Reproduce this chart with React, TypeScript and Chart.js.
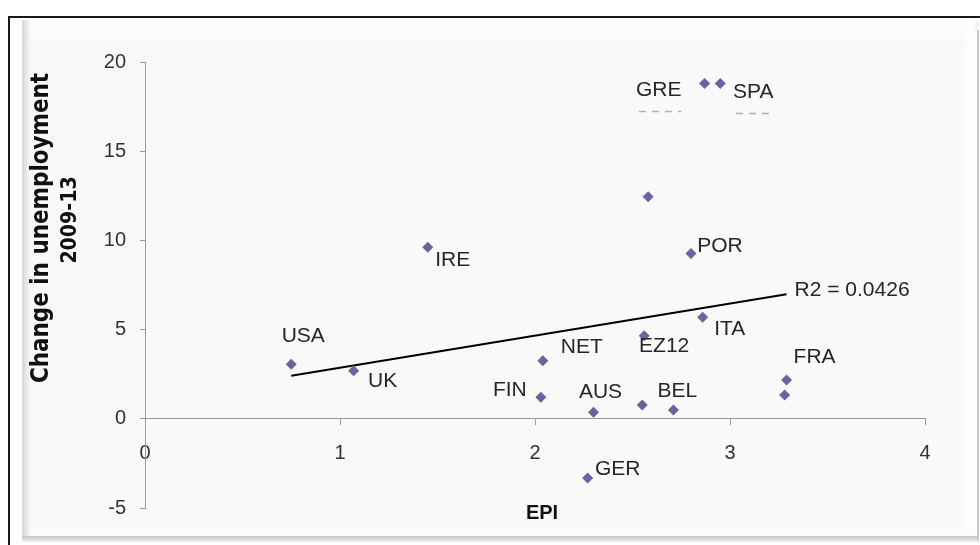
import React, { useEffect, useRef } from "react";
import { Chart, registerables } from "chart.js";

Chart.register(...registerables);

// ---- data ----
const countries = ["USA", "UK", "IRE", "FIN", "NET", "AUS", "GER", "", "BEL", "EZ12", "", "GRE", "SPA", "POR", "ITA", "FRA", ""];
const epi = [0.75, 1.07, 1.45, 2.03, 2.04, 2.30, 2.27, 2.55, 2.71, 2.56, 2.58, 2.87, 2.95, 2.80, 2.86, 3.29, 3.28];
const unemploymentChange = [3.06, 2.69, 9.61, 1.21, 3.25, 0.37, -3.32, 0.78, 0.50, 4.66, 12.44, 18.8, 18.8, 9.27, 5.69, 2.18, 1.34];
const trendX = [0.75, 3.29];
const trendY = [2.41, 6.98];
const r2Text = "R2 = 0.0426";
const xTicks = [0, 1, 2, 3, 4];
const yTicks = [-5, 0, 5, 10, 15, 20];
const yTitleLines = ["Change in unemployment", "2009-13"];
const xTitle = "EPI";

// label placement (pixel offsets from the marker, styling only)
const labelOffsets: Record<string, [number, number]> = {
  USA: [12, -28], UK: [29, 10], IRE: [25, 13], FIN: [-31, -7], NET: [39, -14],
  AUS: [7, -20], GER: [30, -9], BEL: [4, -19], EZ12: [20, 11], GRE: [-46, 7],
  SPA: [33, 9], POR: [29, -7], ITA: [27, 12], FRA: [28, -23],
};

const TICK_FONT = { family: "'Liberation Sans', Arial, sans-serif", size: 20 };
const PLOT_LEFT = 145;

const framePlugin = {
  id: "frame",
  beforeDraw(chart: any) {
    const ctx = chart.ctx;
    ctx.save();
    ctx.fillStyle = "#ffffff";
    ctx.fillRect(0, 0, 980, 545);
    ctx.fillStyle = "#f3f3f3";
    ctx.fillRect(22, 20, 957, 522);
    const lg = ctx.createLinearGradient(22, 0, 30, 0);
    lg.addColorStop(0, "#d6d6d6");
    lg.addColorStop(1, "#f6f6f6");
    ctx.fillStyle = lg;
    ctx.fillRect(22, 20, 8, 518);
    const tg = ctx.createLinearGradient(0, 20, 0, 46);
    tg.addColorStop(0, "#ffffff");
    tg.addColorStop(1, "#f7f7f7");
    ctx.fillStyle = tg;
    ctx.fillRect(30, 20, 945, 26);
    ctx.fillStyle = "#f9f9f9";
    ctx.fillRect(30, 46, 935, 488);
    ctx.fillStyle = "#fdfdfd";
    ctx.fillRect(965, 30, 12, 504);
    ctx.fillStyle = "#fcfcfc";
    ctx.fillRect(30, 530, 945, 7);
    const bg = ctx.createLinearGradient(0, 536, 0, 542);
    bg.addColorStop(0, "#c4c4c4");
    bg.addColorStop(1, "#eeeeee");
    ctx.fillStyle = bg;
    ctx.fillRect(22, 536, 957, 6);
    ctx.fillStyle = "#c8c8c8";
    ctx.fillRect(977, 30, 2, 510);
    ctx.strokeStyle = "#1a1a1a";
    ctx.lineWidth = 2;
    ctx.beginPath();
    ctx.moveTo(980, 17);
    ctx.lineTo(9, 17);
    ctx.lineTo(9, 545);
    ctx.stroke();
    ctx.restore();
  },
};

const labelsPlugin = {
  id: "labels",
  afterDatasetsDraw(chart: any) {
    const ctx = chart.ctx;
    const xs = chart.scales.x;
    const ys = chart.scales.y;
    ctx.save();
    ctx.font = "21px 'Liberation Sans', Arial, sans-serif";
    ctx.fillStyle = "#262626";
    ctx.textAlign = "center";
    ctx.textBaseline = "middle";
    countries.forEach((name, i) => {
      if (!name) return;
      const off = labelOffsets[name] || [0, 0];
      const px = xs.getPixelForValue(epi[i]);
      const py = ys.getPixelForValue(unemploymentChange[i]);
      ctx.fillText(name, px + off[0], py + off[1]);
      if (name === "GRE" || name === "SPA") {
        const w = ctx.measureText(name).width;
        ctx.save();
        ctx.strokeStyle = "#b0b0b0";
        ctx.lineWidth = 1.5;
        ctx.setLineDash([7, 6]);
        ctx.beginPath();
        const ly = py + off[1] + 21;
        ctx.moveTo(px + off[0] - w / 2 + 3, ly);
        ctx.lineTo(px + off[0] + w / 2, ly);
        ctx.stroke();
        ctx.restore();
      }
    });
    const ex = xs.getPixelForValue(trendX[1]);
    const ey = ys.getPixelForValue(trendY[1]);
    ctx.textAlign = "left";
    ctx.fillText(r2Text, ex + 8, ey - 4);

    // axis titles
    ctx.fillStyle = "#111111";
    ctx.textAlign = "center";
    ctx.font = "bold 20px 'Liberation Sans', Arial, sans-serif";
    ctx.fillText(xTitle, xs.getPixelForValue(2) + 7, 513);
    ctx.save();
    ctx.translate(41.5, 228);
    ctx.rotate(-Math.PI / 2);
    ctx.scale(1, 1.12);
    ctx.font = "bold 21.5px 'DejaVu Sans', sans-serif";
    ctx.fillText(yTitleLines[0], 0, 0);
    ctx.restore();
    ctx.save();
    ctx.translate(70, 220);
    ctx.rotate(-Math.PI / 2);
    ctx.scale(1, 1.12);
    ctx.font = "bold 19px 'DejaVu Sans', sans-serif";
    ctx.fillText(yTitleLines[1], 0, 0);
    ctx.restore();
    ctx.restore();
  },
};

export default function App() {
  const ref = useRef<HTMLCanvasElement | null>(null);
  useEffect(() => {
    if (!ref.current) return;
    const yTickLen = 5;
    const yPad = 14;
    const makeChart = (leftPad: number) =>
      new Chart(ref.current!, {
        type: "scatter",
        data: {
          datasets: [
            {
              label: "trend",
              data: trendX.map((x, i) => ({ x, y: trendY[i] })),
              showLine: true,
              borderColor: "#000000",
              borderWidth: 2,
              pointRadius: 0,
              order: 2,
            },
            {
              label: "countries",
              data: epi.map((x, i) => ({ x, y: unemploymentChange[i] })),
              pointStyle: "rectRot",
              pointRadius: 5.5,
              backgroundColor: "#6a63a2",
              borderColor: "#6a63a2",
              borderWidth: 0,
              order: 1,
            },
          ],
        },
        options: {
          responsive: false,
          animation: false,
          layout: { padding: { left: leftPad, right: 55, top: 62, bottom: 37 } },
          plugins: { legend: { display: false }, tooltip: { enabled: false } },
          scales: {
            x: {
              type: "linear",
              position: { y: 0 } as any,
              min: 0,
              max: 4,
              afterBuildTicks: (s: any) => { s.ticks = xTicks.map((v) => ({ value: v })); },
              ticks: { padding: 17, color: "#333333", font: TICK_FONT },
              grid: { drawOnChartArea: false, drawTicks: true, tickLength: 6, color: "#9a9a9a" },
              border: { display: true, color: "#9a9a9a", width: 1 },
            },
            y: {
              type: "linear",
              position: "left",
              min: -5,
              max: 20,
              afterBuildTicks: (s: any) => { s.ticks = yTicks.map((v) => ({ value: v })); },
              ticks: { padding: yPad, color: "#333333", font: TICK_FONT },
              grid: { drawOnChartArea: false, drawTicks: true, tickLength: yTickLen, color: "#9a9a9a" },
              border: { display: true, color: "#9a9a9a", width: 1 },
            },
          },
        },
        plugins: [framePlugin, labelsPlugin],
      });
    // first pass to learn the y-axis box width, then rebuild so the plot starts at PLOT_LEFT
    let chart = makeChart(100);
    const shift = chart.chartArea.left - 100;
    chart.destroy();
    chart = makeChart(PLOT_LEFT - shift);
    return () => chart.destroy();
  }, []);
  return (
    <div style={{ position: "absolute", left: 0, top: 0, width: 980, height: 545 }}>
      <canvas ref={ref} width={980} height={545} style={{ display: "block", width: 980, height: 545 }} />
    </div>
  );
}
